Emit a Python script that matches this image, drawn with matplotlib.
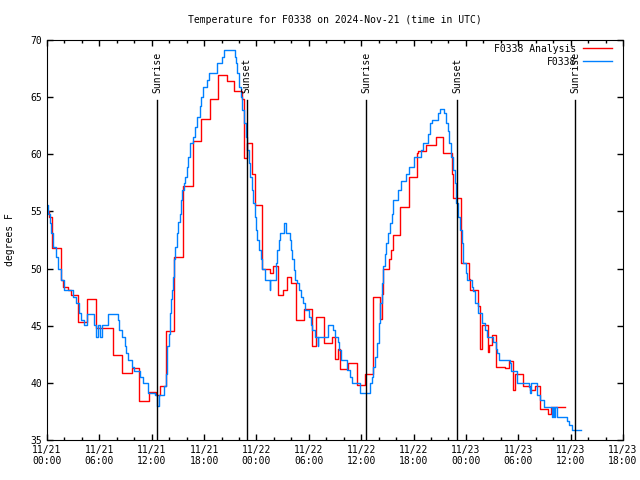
import numpy as np
import matplotlib
matplotlib.use("Agg")
import matplotlib.pyplot as plt

# hours since 2024-11-21 00:00 UTC, step values (deg F)
analysis_hours = [0.0, 0.2, 0.6, 1.6, 1.8, 2.4, 2.7, 3.6, 4.6, 5.6, 7.6, 8.6, 9.7, 10.5,
                  11.7, 12.5, 13.0, 13.6, 14.5, 15.6, 16.7, 17.7, 18.7, 19.6, 20.6, 21.4,
                  22.3, 22.6, 22.9, 23.5, 23.8, 24.6, 25.5, 25.9, 26.5, 27.0, 27.5, 28.0,
                  28.5, 29.5, 30.4, 30.8, 31.7, 32.7, 33.0, 33.4, 33.6, 34.5, 35.5, 36.4,
                  37.4, 38.2, 38.4, 38.5, 39.2, 39.4, 39.6, 40.5, 41.5, 42.4, 42.5, 43.4,
                  44.6, 45.4, 46.4, 46.5, 47.4, 48.4, 48.5, 49.4, 49.6, 49.8, 50.5, 50.7,
                  51.0, 51.4, 52.5, 52.9, 53.4, 53.6, 54.5, 55.3, 55.9, 56.5, 57.4, 57.7,
                  59.4]
analysis_temps = [55.0, 54.5, 51.8, 49.0, 48.4, 48.1, 47.7, 45.3, 47.3, 44.8, 42.4, 40.9, 41.3, 38.4,
                  39.2, 38.9, 39.7, 44.5, 51.0, 57.2, 61.2, 63.1, 64.8, 66.9, 66.4, 65.5,
                  64.8, 59.7, 61.0, 58.3, 55.6, 50.0, 49.6, 50.2, 47.7, 48.1, 49.3, 48.7,
                  45.5, 46.5, 43.2, 45.8, 43.5, 44.0, 42.1, 43.0, 41.2, 41.7, 39.8, 40.8,
                  47.5, 45.6, 47.8, 50.0, 50.8, 51.6, 52.9, 55.4, 58.0, 60.1, 60.3, 60.8,
                  61.5, 60.1, 58.3, 56.2, 50.5, 49.1, 48.1, 46.7, 43.0, 45.1, 42.7, 43.3,
                  44.2, 41.4, 41.3, 41.9, 39.4, 40.8, 39.7, 39.4, 39.7, 37.7, 37.3, 37.9,
                  37.9]

obs_hours = [0.0, 0.1, 0.3, 0.5, 0.7, 1.0, 1.3, 1.6, 1.9, 3.0, 3.3, 3.7, 3.9, 4.2, 4.6,
             5.4, 5.6, 5.8, 6.1, 6.3, 7.0, 8.1, 8.3, 8.6, 8.9, 9.1, 9.3, 9.7, 10.0, 10.7,
             11.0, 11.6, 12.4, 12.6, 12.8, 13.4, 13.6, 13.7, 13.8, 14.0, 14.1, 14.2, 14.3,
             14.4, 14.6, 14.7, 14.9, 15.0, 15.2, 15.3, 15.5, 15.7, 15.8, 16.0, 16.2, 16.4,
             16.7, 17.0, 17.2, 17.5, 17.7, 17.9, 18.3, 18.6, 19.5, 20.0, 20.3, 21.5, 21.6,
             21.8, 22.0, 22.2, 22.4, 22.6, 22.8, 22.9, 23.1, 23.3, 23.5, 23.6, 23.8, 23.9,
             24.1, 24.3, 24.5, 24.6, 25.0, 25.5, 25.6, 26.2, 26.4, 26.6, 26.7, 27.1, 27.4,
             27.9, 28.0, 28.1, 28.3, 28.4, 28.7, 28.9, 29.1, 29.3, 29.6, 30.0, 30.2, 30.4,
             30.7, 31.0, 31.1, 32.2, 32.8, 33.0, 33.3, 33.5, 33.7, 34.4, 34.7, 34.9, 35.9,
             37.0, 37.2, 37.4, 37.6, 37.8, 38.0, 38.2, 38.4, 38.5, 38.7, 38.9, 39.1, 39.3,
             39.5, 39.7, 40.2, 40.6, 41.1, 41.5, 42.1, 42.8, 43.1, 43.7, 43.9, 44.1, 44.8,
             45.0, 45.5, 45.7, 45.9, 46.1, 46.3, 46.5, 46.7, 46.9, 47.1, 47.3, 47.5, 47.7,
             48.0, 48.1, 48.7, 48.8, 49.0, 49.4, 49.9, 50.2, 50.4, 51.1, 51.4, 51.6, 51.8,
             53.0, 53.2, 53.8, 55.2, 55.3, 55.5, 56.1, 56.5, 57.0, 57.9, 58.0, 58.1, 58.2,
             58.4, 59.6, 59.8, 60.1, 61.2]
obs_temps = [55.6, 54.8, 54.0, 53.1, 51.9, 51.0, 50.0, 49.0, 48.1, 47.5, 47.0, 46.1, 45.5, 45.1, 46.0,
             45.1, 44.0, 45.1, 44.0, 45.1, 46.0, 45.5, 44.6, 44.0, 43.2, 42.6, 42.0, 41.4, 41.0, 40.5,
             40.0, 39.1, 38.9, 38.0, 38.9, 39.7, 40.8, 42.0, 43.2, 44.3, 46.1, 47.3, 48.1,
             49.3, 50.8, 51.9, 53.1, 54.1, 54.8, 56.0, 56.9, 57.5, 58.0, 58.9, 59.8, 61.0,
             61.5, 62.4, 63.3, 64.2, 65.0, 65.9, 66.5, 67.1, 68.0, 68.5, 69.1, 68.5, 68.0,
             67.1, 65.9, 65.0, 63.9, 62.7, 61.5, 60.4, 59.2, 58.0, 56.9, 55.7, 54.5, 53.4,
             52.5, 51.6, 50.8, 50.0, 49.0, 48.1, 49.0, 50.5, 51.6, 52.5, 53.1, 54.0, 53.1,
             52.5, 51.6, 50.8, 49.9, 49.0, 48.7, 48.1, 47.5, 47.0, 46.4, 45.8, 45.1, 44.6,
             44.0, 43.2, 44.0, 45.1, 44.6, 44.0, 43.6, 42.9, 42.0, 41.1, 40.5, 40.0, 39.1,
             40.0, 40.5, 41.4, 42.3, 43.5, 45.2, 47.0, 48.7, 50.2, 51.3, 52.2, 53.1, 54.0,
             54.8, 56.0, 56.9, 57.7, 58.3, 58.9, 59.8, 60.4, 61.0, 61.8, 62.7, 63.0, 63.6,
             64.0, 63.6, 62.7, 62.0, 61.0, 59.8, 58.6, 57.5, 55.7, 54.5, 53.4, 52.2, 50.5,
             49.6, 49.0, 48.4, 48.0, 47.0, 46.1, 45.2, 44.6, 44.0, 43.6, 43.0, 42.6, 42.0,
             41.7, 41.0, 40.0, 39.6, 39.1, 40.0, 38.9, 38.5, 37.9, 37.0, 37.9, 37.0, 37.9,
             37.0, 36.7, 36.3, 35.9, 35.9]

sun_hours = [12.6, 22.9, 36.55, 47.0, 60.5]
sun_labels = ["Sunrise", "Sunset", "Sunrise", "Sunset", "Sunrise"]

xtick_hours = [0, 6, 12, 18, 24, 30, 36, 42, 48, 54, 60, 66]
xtick_labels = ["11/21\n00:00", "11/21\n06:00", "11/21\n12:00", "11/21\n18:00",
                "11/22\n00:00", "11/22\n06:00", "11/22\n12:00", "11/22\n18:00",
                "11/23\n00:00", "11/23\n06:00", "11/23\n12:00", "11/23\n18:00"]

plt.rcParams['font.family'] = 'DejaVu Sans Mono'
fs = 7

fig = plt.figure(figsize=(6.4, 4.8), dpi=100)
ax = fig.add_axes([47/640, 40/480, 576/640, 400/480])

ax.step(analysis_hours, analysis_temps, where='post', color='#ff0000', lw=1.0, label='F0338 Analysis')
ax.step(obs_hours, obs_temps, where='post', color='#0080ff', lw=1.0, label='F0338')

for h, lab in zip(sun_hours, sun_labels):
    ax.plot([h, h], [35, 64.75], color='black', lw=1.0)
    ax.text(h, 65.4, lab, rotation=90, ha='center', va='bottom', fontsize=fs)

ax.set_xlim(0, 66)
ax.set_ylim(35, 70)
ax.set_xticks(xtick_hours)
ax.set_xticklabels(xtick_labels, fontsize=fs)
ax.set_xticks(np.arange(0, 67, 2), minor=True)
ax.set_yticks([35, 40, 45, 50, 55, 60, 65, 70])
ax.tick_params(axis='y', labelsize=fs)
ax.tick_params(which='both', direction='in', top=True, right=True, width=1)
ax.tick_params(which='major', length=4)
ax.tick_params(which='minor', length=2.5)
ax.set_ylabel('degrees F', fontsize=fs)
ax.yaxis.set_label_coords(-0.055, 0.5)

fig.text(335/640, 1 - 20/480, 'Temperature for F0338 on 2024-Nov-21 (time in UTC)',
         ha='center', va='center', fontsize=fs)

ax.legend(loc='upper right', bbox_to_anchor=(0.988, 1.0), frameon=False, markerfirst=False,
          fontsize=fs, handlelength=3, handletextpad=0.7, labelspacing=0.3, borderaxespad=0)

fig.savefig('out.png', dpi=100)
